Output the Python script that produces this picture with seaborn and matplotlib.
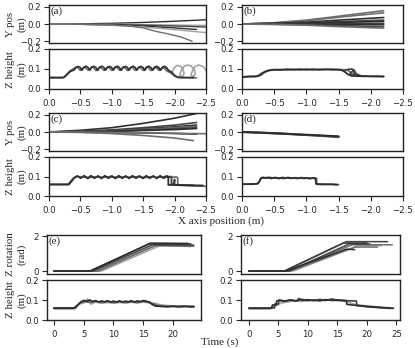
import numpy as np
import pandas as pd
import matplotlib
matplotlib.use("Agg")
import matplotlib.pyplot as plt
import seaborn as sns

sns.set_style("ticks")
plt.rcParams["font.family"] = ["DejaVu Sans"]
plt.rcParams["axes.linewidth"] = 1.0
plt.rcParams["axes.edgecolor"] = "#222222"
plt.rcParams["xtick.labelsize"] = 6.2
plt.rcParams["ytick.labelsize"] = 6.2
plt.rcParams["xtick.major.size"] = 3.5
plt.rcParams["ytick.major.size"] = 3.5
plt.rcParams["ytick.major.pad"] = 2.5

SERIF = "Liberation Serif"
DARK, DARK2, MID, LIGHT = "#2e2e2e", "#444444", "#6e6e6e", "#a2a2a2"

# ---------------- (a) ----------------
A_Y1_X = [0.0, -0.5, -1.0, -1.5, -2.0, -2.5]
A_Y1 = [0.0, 0.002, 0.008, 0.018, 0.032, 0.049]
A_Y2_X = [0.0, -0.5, -1.0, -1.5, -2.0, -2.5]
A_Y2 = [0.0, -0.001, -0.004, -0.008, -0.012, -0.016]
A_Y3_X = [0.0, -0.5, -1.0, -1.5, -2.0, -2.5]
A_Y3 = [0.0, -0.002, -0.006, -0.013, -0.023, -0.035]
A_Y4_X = [0.0, -0.5, -1.0, -1.5, -2.0, -2.35]
A_Y4 = [0.0, -0.003, -0.01, -0.024, -0.045, -0.064]
A_Y5_X = [0.0, -0.5, -1.0, -1.5, -2.0, -2.5]
A_Y5 = [0.0, -0.004, -0.015, -0.035, -0.065, -0.1]
A_Y6_X = [0.0, -0.5, -1.0, -1.3, -1.5, -1.7, -1.9, -2.1, -2.28]
A_Y6 = [0.0, -0.004, -0.012, -0.025, -0.045, -0.085, -0.115, -0.15, -0.2]

A_Z1_X = [0.0, -0.24, -0.29, -0.34, -0.40, -0.43, -0.4625, -0.495, -0.525, -0.555,
          -0.5875, -0.62, -0.65, -0.68, -0.7125, -0.745, -0.775, -0.805, -0.8375, -0.87,
          -0.90, -0.93, -0.9625, -0.995, -1.025, -1.055, -1.0875, -1.12, -1.15, -1.18,
          -1.2125, -1.245, -1.275, -1.305, -1.3375, -1.37, -1.40, -1.43, -1.4625, -1.495,
          -1.525, -1.555, -1.5875, -1.62, -1.65, -1.68, -1.7125, -1.745, -1.775, -1.805,
          -1.8375, -1.87, -1.90, -1.95, -2.00, -2.04, -2.10, -2.30]
A_Z1 = [0.058, 0.058, 0.072, 0.088, 0.095, 0.108, 0.113, 0.108, 0.094, 0.108,
        0.114, 0.108, 0.094, 0.109, 0.113, 0.108, 0.093, 0.108, 0.114, 0.109,
        0.094, 0.108, 0.113, 0.108, 0.094, 0.109, 0.114, 0.108, 0.093, 0.108,
        0.113, 0.109, 0.094, 0.108, 0.114, 0.108, 0.094, 0.108, 0.113, 0.108,
        0.093, 0.109, 0.114, 0.108, 0.094, 0.108, 0.113, 0.108, 0.094, 0.108,
        0.113, 0.108, 0.094, 0.085, 0.068, 0.06, 0.058, 0.057]
A_Z2_X = [0.0, -0.22, -0.27, -0.33, -0.38, -0.44, -0.50, -0.565, -0.625, -0.69,
          -0.75, -0.815, -0.875, -0.94, -1.0, -1.065, -1.125, -1.19, -1.25, -1.315,
          -1.375, -1.44, -1.5, -1.565, -1.625, -1.69, -1.75, -1.815, -1.875, -1.94,
          -2.0, -2.05, -2.1, -2.35]
A_Z2 = [0.055, 0.055, 0.07, 0.09, 0.1, 0.111, 0.093, 0.111, 0.093, 0.112,
        0.092, 0.111, 0.093, 0.111, 0.093, 0.112, 0.093, 0.111, 0.092, 0.111,
        0.093, 0.111, 0.093, 0.112, 0.092, 0.111, 0.093, 0.11, 0.09, 0.08,
        0.065, 0.058, 0.056, 0.056]
A_Z3_X = [-1.65, -1.7125, -1.775, -1.8375, -1.90, -1.93, -1.95, -1.99, -2.04, -2.09,
          -2.13, -2.15, -2.14, -2.11, -2.08, -2.11, -2.15, -2.2, -2.26, -2.31,
          -2.33, -2.32, -2.29, -2.26, -2.29, -2.33, -2.38, -2.44, -2.49, -2.51]
A_Z3 = [0.094, 0.113, 0.094, 0.113, 0.094, 0.085, 0.08, 0.105, 0.118, 0.115,
        0.1, 0.08, 0.068, 0.063, 0.07, 0.095, 0.113, 0.12, 0.115, 0.1,
        0.08, 0.067, 0.063, 0.07, 0.095, 0.113, 0.12, 0.115, 0.1, 0.085]

# ---------------- (b) ----------------
B_Y_X = [0.0, -0.5, -1.0, -1.5, -2.2]
B_Y1 = [0.0, 0.015, 0.045, 0.09, 0.155]
B_Y2 = [0.0, 0.012, 0.038, 0.078, 0.13]
B_Y3 = [0.0, 0.008, 0.022, 0.045, 0.075]
B_Y4 = [0.0, 0.005, 0.014, 0.028, 0.045]
B_Y5 = [0.0, 0.003, 0.009, 0.018, 0.03]
B_Y6 = [0.0, 0.001, 0.002, 0.004, 0.007]
B_Y7 = [0.0, -0.001, -0.002, -0.004, -0.007]
B_Y8 = [0.0, -0.003, -0.009, -0.018, -0.03]
B_Y9 = [0.0, -0.005, -0.014, -0.03, -0.048]

B_Z_X = [0.0, -0.1, -0.2, -0.25, -0.3, -0.35, -0.4, -0.45, -0.5, -0.6,
         -0.7, -0.8, -0.9, -1.0, -1.1, -1.2, -1.3, -1.4, -1.5, -1.55,
         -1.6, -1.65, -1.7, -1.8, -1.9, -2.0, -2.1, -2.2]
B_Z1 = [0.060, 0.063, 0.062, 0.066, 0.077, 0.086, 0.092, 0.095, 0.097, 0.095,
        0.099, 0.096, 0.099, 0.096, 0.099, 0.096, 0.099, 0.096, 0.098, 0.094,
        0.085, 0.072, 0.066, 0.064, 0.065, 0.063, 0.064, 0.062]
B_Z2 = [0.058, 0.061, 0.064, 0.063, 0.07, 0.083, 0.09, 0.094, 0.095, 0.098,
        0.095, 0.099, 0.095, 0.1, 0.095, 0.099, 0.096, 0.1, 0.095, 0.097,
        0.095, 0.092, 0.08, 0.065, 0.063, 0.064, 0.062, 0.063]
B_Z3_X = [-1.6, -1.65, -1.7, -1.74, -1.76, -1.74, -1.7, -1.68, -1.72, -1.78, -1.85]
B_Z3 = [0.095, 0.098, 0.1, 0.095, 0.082, 0.07, 0.068, 0.078, 0.09, 0.075, 0.065]

# ---------------- (c) ----------------
C_Y_X = [0.0, -0.5, -1.0, -1.5, -2.0, -2.35]
C_Y1 = [0.0, 0.02, 0.05, 0.1, 0.16, 0.215]
C_Y2 = [0.0, 0.008, 0.025, 0.05, 0.08, 0.11]
C_Y3 = [0.0, 0.006, 0.018, 0.037, 0.06, 0.08]
C_Y4 = [0.0, 0.005, 0.015, 0.03, 0.05, 0.065]
C_Y5 = [0.0, 0.004, 0.011, 0.023, 0.038, 0.05]
C_Y6 = [0.0, 0.003, 0.008, 0.017, 0.028, 0.04]
C_Y7 = [0.0, -0.002, -0.005, -0.01, -0.017, -0.025]
C_Y8_X = [0.0, -0.5, -1.0, -1.5, -2.0, -2.5]
C_Y8 = [0.0, -0.002, -0.005, -0.01, -0.015, -0.02]
C_Y9_X = [0.0, -0.5, -1.0, -1.5, -2.0, -2.3]
C_Y9 = [0.0, -0.005, -0.018, -0.04, -0.07, -0.1]

C_Z1_X = [0.0, -0.32, -0.36, -0.40, -0.45, -0.505, -0.56, -0.615, -0.67, -0.725,
          -0.78, -0.835, -0.89, -0.945, -1.0, -1.055, -1.11, -1.165, -1.22, -1.275,
          -1.33, -1.385, -1.44, -1.495, -1.55, -1.605, -1.66, -1.715, -1.77, -1.825,
          -1.88, -1.9, -1.9, -2.0, -2.2, -2.45]
C_Z1 = [0.06, 0.06, 0.075, 0.092, 0.103, 0.091, 0.104, 0.09, 0.104, 0.091,
        0.103, 0.09, 0.104, 0.091, 0.103, 0.09, 0.104, 0.091, 0.103, 0.09,
        0.104, 0.091, 0.103, 0.09, 0.104, 0.091, 0.103, 0.09, 0.104, 0.091,
        0.103, 0.1, 0.057, 0.056, 0.055, 0.054]
C_Z2_X = [0.0, -0.30, -0.35, -0.40, -0.44, -0.53, -0.64, -0.75, -0.86, -0.97,
          -1.08, -1.19, -1.30, -1.41, -1.52, -1.63, -1.74, -1.85, -1.96, -2.02,
          -2.05, -2.05, -2.3, -2.5]
C_Z2 = [0.058, 0.058, 0.078, 0.095, 0.1, 0.098, 0.095, 0.098, 0.096, 0.099,
        0.095, 0.098, 0.096, 0.099, 0.095, 0.098, 0.096, 0.099, 0.095, 0.098,
        0.094, 0.056, 0.052, 0.05]
C_Z3_X = [-1.85, -1.9, -1.95, -1.95, -1.98, -2.0, -2.0, -2.1, -2.3]
C_Z3 = [0.1, 0.097, 0.1, 0.06, 0.06, 0.085, 0.058, 0.056, 0.055]

# ---------------- (d) ----------------
D_Y_X = [0.0, -0.3, -0.6, -0.9, -1.2, -1.5]
D_Y1 = [0.0, -0.008, -0.018, -0.028, -0.038, -0.05]
D_Y2 = [0.0, -0.006, -0.015, -0.03, -0.045, -0.06]
D_Y3 = [0.0, -0.01, -0.02, -0.032, -0.042, -0.055]

D_Z1_X = [0.0, -0.1, -0.2, -0.25, -0.28, -0.3, -0.35, -0.4, -0.45, -0.5,
          -0.55, -0.6, -0.65, -0.7, -0.75, -0.8, -0.85, -0.9, -0.95, -1.0,
          -1.05, -1.1, -1.14, -1.15, -1.2, -1.3, -1.4, -1.48]
D_Z1 = [0.06, 0.061, 0.062, 0.064, 0.08, 0.093, 0.092, 0.095, 0.09, 0.094,
        0.091, 0.093, 0.09, 0.094, 0.091, 0.093, 0.09, 0.092, 0.091, 0.093,
        0.089, 0.092, 0.09, 0.062, 0.061, 0.06, 0.06, 0.058]
D_Z2_X = [0.0, -0.15, -0.24, -0.27, -0.29, -0.33, -0.38, -0.43, -0.48, -0.53,
          -0.58, -0.63, -0.68, -0.73, -0.78, -0.83, -0.88, -0.93, -0.98, -1.03,
          -1.08, -1.13, -1.16, -1.16, -1.25, -1.35, -1.5]
D_Z2 = [0.062, 0.06, 0.063, 0.075, 0.09, 0.097, 0.091, 0.096, 0.092, 0.095,
        0.089, 0.096, 0.092, 0.095, 0.09, 0.094, 0.092, 0.095, 0.09, 0.093,
        0.091, 0.093, 0.09, 0.06, 0.059, 0.06, 0.058]

# ---------------- (e) ----------------
E_R1_T, E_R1 = [0, 6.0, 16.0, 23.0], [0, 0, 1.55, 1.55]
E_R2_T, E_R2 = [0, 6.5, 16.5, 23.5], [0, 0, 1.5, 1.48]
E_R3_T, E_R3 = [0, 7.0, 17.0, 23.5], [0, 0, 1.45, 1.42]
E_R4_T, E_R4 = [0, 8.0, 17.8, 23.0], [0, 0, 1.45, 1.4]
E_R5_T, E_R5 = [0, 6.2, 16.2, 22.5], [0, 0, 1.6, 1.58]
E_R6_T, E_R6 = [0, 7.5, 17.3, 23.3], [0, 0, 1.5, 1.46]

E_Z1_T = [0, 3.5, 4, 4.5, 5, 5.5, 6, 6.5, 7, 7.5, 8, 8.5, 9, 9.5, 10, 10.5, 11, 11.5,
          12, 12.5, 13, 13.5, 14, 14.5, 15, 15.5, 16, 16.5, 17, 18, 19, 20, 21, 22, 23, 23.5]
E_Z1 = [0.06, 0.06, 0.075, 0.09, 0.098, 0.093, 0.1, 0.092, 0.097, 0.09, 0.095, 0.091,
        0.096, 0.09, 0.094, 0.09, 0.095, 0.09, 0.094, 0.091, 0.096, 0.09, 0.095, 0.092,
        0.097, 0.094, 0.09, 0.078, 0.07, 0.068, 0.066, 0.069, 0.066, 0.068, 0.066, 0.067]
E_Z2_T = [0, 3.2, 3.8, 4.4, 5.2, 6, 7, 8, 9, 10, 11, 12, 13, 14, 15, 16, 16.8, 17.5,
          18.5, 20, 21.5, 23.5]
E_Z2 = [0.058, 0.058, 0.07, 0.085, 0.092, 0.088, 0.093, 0.087, 0.092, 0.088, 0.093,
        0.088, 0.092, 0.087, 0.093, 0.088, 0.08, 0.072, 0.07, 0.068, 0.07, 0.068]
E_Z3_T = [0, 3.5, 4.2, 5, 5.6, 6.2, 7, 8, 9, 10, 11, 12, 13, 14, 15, 16, 17, 18, 19,
          20, 21, 22, 23.5]
E_Z3 = [0.056, 0.056, 0.08, 0.085, 0.105, 0.08, 0.09, 0.085, 0.088, 0.084, 0.088,
        0.085, 0.089, 0.086, 0.09, 0.086, 0.082, 0.075, 0.072, 0.07, 0.066, 0.068, 0.065]

# ---------------- (f) ----------------
F_R1_T, F_R1 = [0, 6.0, 16.5, 23.5], [0, 0, 1.68, 1.68]
F_R2_T, F_R2 = [0, 6.5, 17.5, 24.3], [0, 0, 1.5, 1.5]
F_R3_T, F_R3 = [0, 7.0, 18.0, 21.8], [0, 0, 1.37, 1.37]
F_R4_T, F_R4 = [0, 6.3, 16.5, 17.9], [0, 0, 1.25, 1.22]
F_R5_T, F_R5 = [0, 6.0, 16.0, 20.0], [0, 0, 1.6, 1.6]
F_R6_T, F_R6 = [0, 7.5, 18.5, 22.5], [0, 0, 1.45, 1.45]
F_R7_T, F_R7 = [0, 6.8, 17.0, 20.5], [0, 0, 1.55, 1.55]

F_Z1_T = [0, 3.8, 4.0, 4.6, 4.7, 5.2, 6, 7, 8, 9, 10, 11, 12, 13, 14, 15, 16, 16.5,
          16.6, 17.5, 18.5, 20, 22, 24.5]
F_Z1 = [0.058, 0.058, 0.075, 0.075, 0.095, 0.1, 0.095, 0.1, 0.096, 0.103, 0.098, 0.1,
        0.097, 0.102, 0.098, 0.1, 0.097, 0.096, 0.078, 0.075, 0.072, 0.068, 0.063, 0.058]
F_Z2_T = [0, 4.3, 4.4, 5.0, 5.1, 6, 7, 8, 8.5, 9, 10, 11, 12, 13, 14, 15, 16, 17,
          18.2, 18.3, 19, 20, 22, 24]
F_Z2 = [0.06, 0.06, 0.08, 0.08, 0.097, 0.093, 0.1, 0.095, 0.108, 0.098, 0.102, 0.097,
        0.103, 0.098, 0.105, 0.1, 0.098, 0.096, 0.095, 0.072, 0.07, 0.066, 0.062, 0.058]
F_Z3_T = [0, 3.5, 4.5, 5.5, 6.5, 7.5, 9, 10.5, 12, 13.5, 15, 16.5, 17.2, 18, 19.5,
          21, 23, 24.5]
F_Z3 = [0.057, 0.057, 0.07, 0.085, 0.09, 0.095, 0.093, 0.097, 0.095, 0.1, 0.096,
        0.094, 0.085, 0.078, 0.072, 0.068, 0.063, 0.06]


def draw(ax, traces, lw=1.0):
    frames = []
    pal = {}
    for i, (xs, ys, col) in enumerate(traces):
        frames.append(pd.DataFrame({"x": xs, "y": ys, "trial": f"t{i}"}))
        pal[f"t{i}"] = col
    df = pd.concat(frames, ignore_index=True)
    sns.lineplot(data=df, x="x", y="y", hue="trial", palette=pal, sort=False,
                 estimator=None, legend=False, ax=ax, linewidth=lw)
    ax.set_xlabel("")
    ax.set_ylabel("")


W, H = 415, 348
fig = plt.figure(figsize=(W / 100, H / 100), dpi=100)


def add_ax(l, r, t, b):
    return fig.add_axes([l / W, 1 - b / H, (r - l) / W, (b - t) / H])


def side_label(ax, text, left_px, width_px):
    # two-line serif label, right edge about 26 px from the figure edge
    ax.set_ylabel(text, family=SERIF, fontsize=7.8, linespacing=1.2)
    ax.yaxis.set_label_coords((26.5 - left_px) / width_px, 0.5)


def ypos_axis(ax, label, ylab):
    ax.set_xlim(0, -2.5)
    ax.set_ylim(-0.22, 0.22)
    ax.set_yticks([-0.2, 0.0, 0.2])
    ax.tick_params(axis="x", bottom=False, labelbottom=False)
    ax.text(0.01, 0.97, label, transform=ax.transAxes, va="top", ha="left",
            family=SERIF, fontsize=8)
    if ylab:
        side_label(ax, "Y pos\n(m)", 49, 157)


def zh_axis(ax, ylab, xlim, left_px=49, width_px=157):
    ax.set_xlim(*xlim)
    ax.set_ylim(0, 0.2)
    ax.set_yticks([0.0, 0.1, 0.2])
    if ylab:
        side_label(ax, "Z height\n(m)", left_px, width_px)


X_TICKS = [0.0, -0.5, -1.0, -1.5, -2.0, -2.5]

# panel (a)
ax = add_ax(49, 206, 5, 43)
draw(ax, [(A_Y1_X, A_Y1, DARK), (A_Y2_X, A_Y2, LIGHT), (A_Y3_X, A_Y3, DARK2),
          (A_Y4_X, A_Y4, DARK), (A_Y5_X, A_Y5, LIGHT), (A_Y6_X, A_Y6, MID)])
ypos_axis(ax, "(a)", True)
ax = add_ax(49, 206, 49, 89)
draw(ax, [(A_Z3_X, A_Z3, LIGHT), (A_Z2_X, A_Z2, MID), (A_Z1_X, A_Z1, DARK)], lw=1.2)
zh_axis(ax, True, (0, -2.5))
ax.set_xticks(X_TICKS)

# panel (b)
ax = add_ax(242, 403, 5, 43)
draw(ax, [(B_Y_X, B_Y1, MID), (B_Y_X, B_Y2, MID), (B_Y_X, B_Y3, DARK),
          (B_Y_X, B_Y4, DARK2), (B_Y_X, B_Y5, DARK), (B_Y_X, B_Y6, DARK2),
          (B_Y_X, B_Y7, DARK), (B_Y_X, B_Y8, DARK2), (B_Y_X, B_Y9, MID)], lw=1.2)
ypos_axis(ax, "(b)", False)
ax = add_ax(242, 403, 49, 89)
draw(ax, [(B_Z_X, B_Z2, MID), (B_Z3_X, B_Z3, DARK2), (B_Z_X, B_Z1, DARK)], lw=1.3)
zh_axis(ax, False, (0, -2.5))
ax.set_xticks(X_TICKS)

# panel (c)
ax = add_ax(49, 206, 113, 151)
draw(ax, [(C_Y_X, C_Y1, DARK), (C_Y_X, C_Y2, DARK2), (C_Y_X, C_Y3, DARK),
          (C_Y_X, C_Y4, MID), (C_Y_X, C_Y5, DARK2), (C_Y_X, C_Y6, DARK),
          (C_Y_X, C_Y7, DARK), (C_Y8_X, C_Y8, MID), (C_Y9_X, C_Y9, MID)], lw=1.2)
ypos_axis(ax, "(c)", True)
ax = add_ax(49, 206, 157, 196)
draw(ax, [(C_Z2_X, C_Z2, MID), (C_Z3_X, C_Z3, DARK2), (C_Z1_X, C_Z1, DARK)], lw=1.3)
zh_axis(ax, True, (0, -2.5))
ax.set_xticks(X_TICKS)

# panel (d)
ax = add_ax(242, 403, 113, 151)
draw(ax, [(D_Y_X, D_Y2, MID), (D_Y_X, D_Y3, DARK2), (D_Y_X, D_Y1, DARK)], lw=1.4)
ypos_axis(ax, "(d)", False)
ax = add_ax(242, 403, 157, 196)
draw(ax, [(D_Z2_X, D_Z2, MID), (D_Z1_X, D_Z1, DARK)], lw=1.3)
zh_axis(ax, False, (0, -2.5))
ax.set_xticks(X_TICKS)

fig.text(221 / W, 1 - 221 / H, "X axis position (m)", ha="center", va="center",
         family=SERIF, fontsize=8)

# panel (e)
ax = add_ax(47, 201, 235, 274)
draw(ax, [(E_R4_T, E_R4, LIGHT), (E_R6_T, E_R6, MID), (E_R3_T, E_R3, MID),
          (E_R2_T, E_R2, DARK2), (E_R5_T, E_R5, DARK), (E_R1_T, E_R1, DARK)], lw=1.1)
ax.set_xlim(-1.17, 24.7)
ax.set_ylim(-0.17, 2.06)
ax.set_yticks([0, 2])
ax.tick_params(axis="x", bottom=False, labelbottom=False)
ax.text(0.01, 0.97, "(e)", transform=ax.transAxes, va="top", ha="left",
        family=SERIF, fontsize=8)
side_label(ax, "Z rotation\n(rad)", 47, 154)
ax = add_ax(47, 201, 280, 320)
draw(ax, [(E_Z3_T, E_Z3, LIGHT), (E_Z2_T, E_Z2, MID), (E_Z1_T, E_Z1, DARK)], lw=1.3)
zh_axis(ax, True, (-1.17, 24.7), 47, 154)
ax.set_xticks([0, 5, 10, 15, 20])

# panel (f)
ax = add_ax(241, 400, 235, 274)
draw(ax, [(F_R6_T, F_R6, LIGHT), (F_R2_T, F_R2, MID), (F_R3_T, F_R3, MID),
          (F_R7_T, F_R7, DARK2), (F_R5_T, F_R5, DARK), (F_R1_T, F_R1, DARK2),
          (F_R4_T, F_R4, DARK)], lw=1.1)
ax.set_xlim(-1.35, 25.6)
ax.set_ylim(-0.17, 2.06)
ax.set_yticks([0, 2])
ax.tick_params(axis="x", bottom=False, labelbottom=False)
ax.text(0.01, 0.97, "(f)", transform=ax.transAxes, va="top", ha="left",
        family=SERIF, fontsize=8)
ax = add_ax(241, 400, 280, 320)
draw(ax, [(F_Z3_T, F_Z3, LIGHT), (F_Z2_T, F_Z2, DARK2), (F_Z1_T, F_Z1, DARK)], lw=1.2)
zh_axis(ax, False, (-1.35, 25.6))
ax.set_xticks([0, 5, 10, 15, 20, 25])

fig.text(220 / W, 1 - 342 / H, "Time (s)", ha="center", va="center",
         family=SERIF, fontsize=8)

fig.savefig("out.png", dpi=100)
